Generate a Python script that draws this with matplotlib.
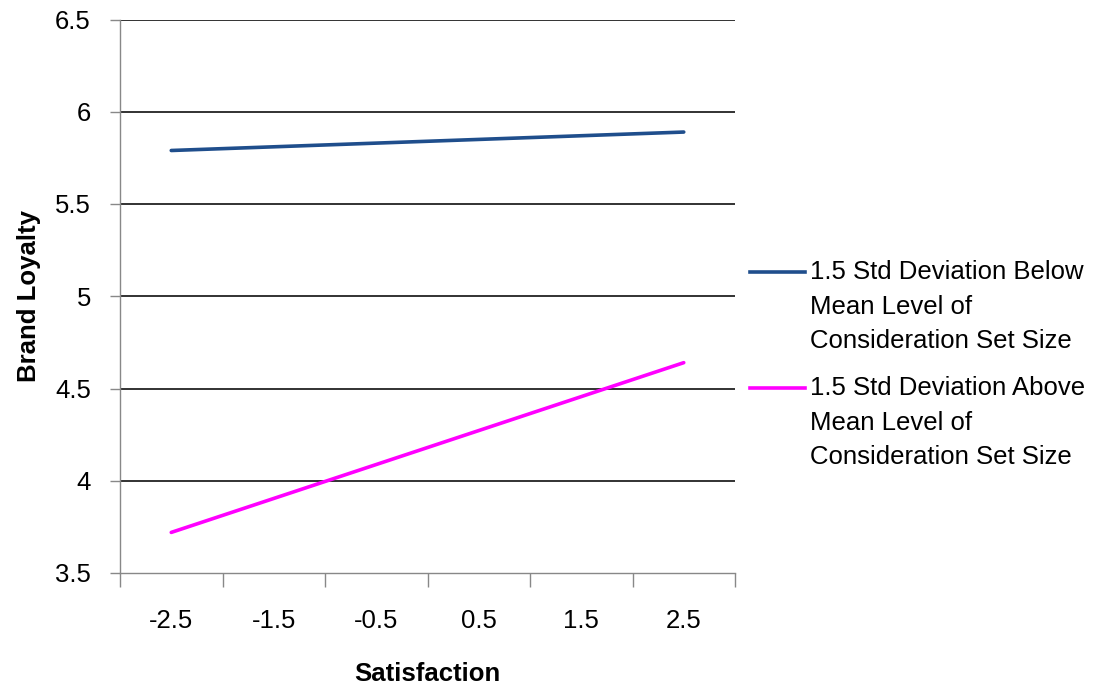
import matplotlib
matplotlib.use("Agg")
import matplotlib.pyplot as plt
from matplotlib.lines import Line2D
import numpy as np

plt.rcParams["font.family"] = ["Liberation Sans", "DejaVu Sans"]

# satisfaction categories and brand loyalty values
CATEGORIES = ["-2.5", "-1.5", "-0.5", "0.5", "1.5", "2.5"]
BELOW = [5.79, 5.81, 5.83, 5.85, 5.87, 5.89]
ABOVE = [3.72, 3.904, 4.088, 4.272, 4.456, 4.64]
LABELS = ["1.5 Std Deviation Below\nMean Level of\nConsideration Set Size",
          "1.5 Std Deviation Above\nMean Level of\nConsideration Set Size"]
COLORS = ["#1F4E8C", "#FF00FF"]
YTICKS = [3.5, 4, 4.5, 5, 5.5, 6, 6.5]

FS = 18.5
W, H = 1110, 691

fig = plt.figure(figsize=(W / 100, H / 100), dpi=100)
ax = fig.add_axes([120 / W, 1 - 573 / H, 615 / W, 553.5 / H])

x = np.arange(len(CATEGORIES))
for ys, c in zip([BELOW, ABOVE], COLORS):
    ax.plot(x, ys, color=c, lw=2.6, solid_capstyle="round")

ax.set_xlim(-0.5, len(CATEGORIES) - 0.5)
ax.set_ylim(3.5, 6.5)
ax.set_yticks(YTICKS)
ax.set_yticklabels([f"{v:g}" for v in YTICKS], fontsize=FS)
ax.set_xticks(x)
ax.set_xticklabels(CATEGORIES, fontsize=FS)
ax.set_xticks(np.arange(-0.5, len(CATEGORIES)), minor=True)
ax.tick_params(axis="x", which="major", length=0, pad=26)
ax.tick_params(axis="x", which="minor", length=10, width=1, color="#888888", direction="out")
ax.tick_params(axis="y", length=7, width=1, color="#888888", direction="out", pad=14)

for v in YTICKS[1:]:
    ax.axhline(v, color="#222222", lw=1.3, zorder=0)
for side in ["top", "right"]:
    ax.spines[side].set_visible(False)
for side in ["left", "bottom"]:
    ax.spines[side].set_color("#888888")
    ax.spines[side].set_linewidth(1)

ax.set_xlabel("Satisfaction", fontsize=FS, fontweight="bold", labelpad=21)
ax.set_ylabel("Brand Loyalty", fontsize=FS, fontweight="bold", labelpad=10)

# legend drawn by hand: handle sits beside the first line of each label
for i, (lab, c) in enumerate(zip(LABELS, COLORS)):
    yl = 1 - (272 + 116 * i) / H
    fig.add_artist(Line2D([750 / W, 805 / W], [yl, yl], color=c, lw=2.6,
                          transform=fig.transFigure))
    fig.text(810 / W, yl + 12 / H, lab, fontsize=FS, ha="left", va="top",
             linespacing=1.56)

fig.savefig("out.png", dpi=100, facecolor="white")
